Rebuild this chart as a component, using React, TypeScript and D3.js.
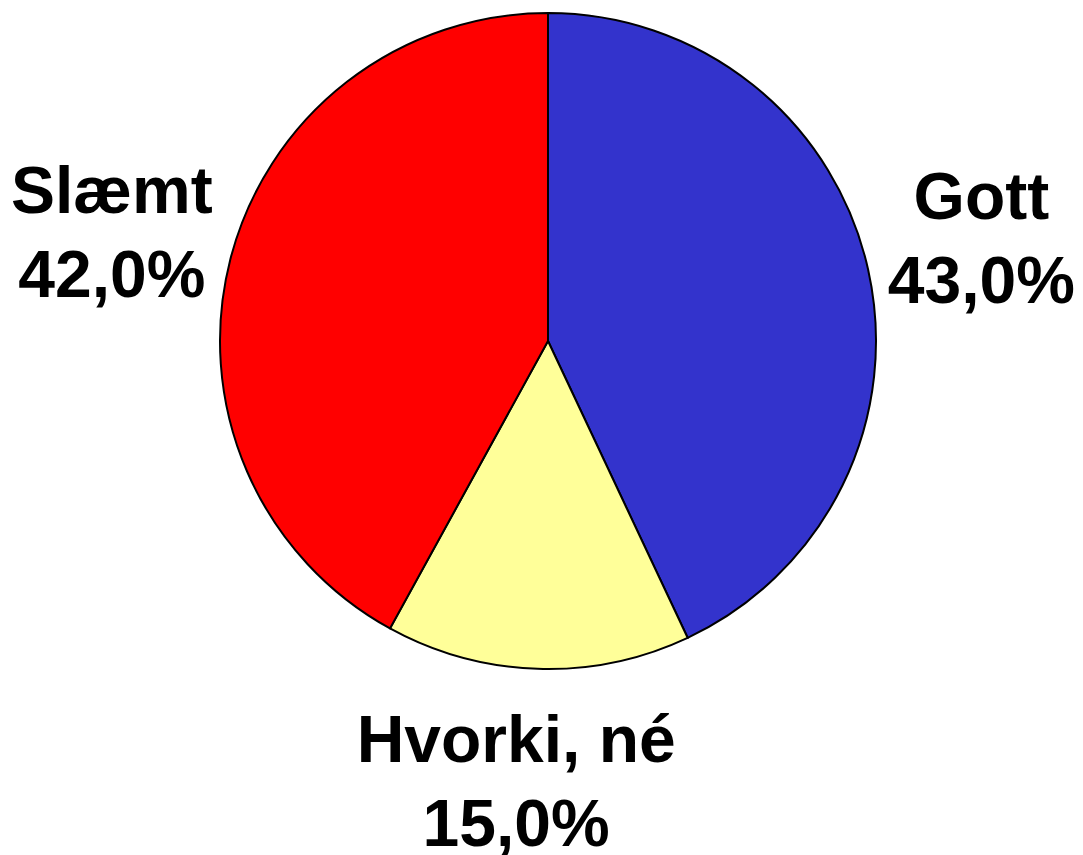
import React from "react";
import * as d3 from "d3";

const categories = ["Gott", "Hvorki, né", "Slæmt"];
const values = [43.0, 15.0, 42.0];
const colors = ["#3333CC", "#FFFF99", "#FF0000"];
// small label nudges [dx, dy] relative to arc centroid
const labelNudge: [number, number][] = [[4, -7], [-18, 0], [-10, 0]];

const W = 1083;
const H = 855;
const cx = 548;
const cy = 341;
const R = 328;
const labelR = 440;
const fontSize = 66;
const lineH = 84;

export default function App() {
  const pie = d3.pie<number>().sort(null).value((d) => d);
  const arcs = pie(values);
  const arcGen = d3.arc<d3.PieArcDatum<number>>().innerRadius(0).outerRadius(R);
  const labelArc = d3.arc<d3.PieArcDatum<number>>().innerRadius(labelR).outerRadius(labelR);
  const fmt = (v: number) => v.toFixed(1).replace(".", ",") + "%";

  return (
    <svg
      width={W}
      height={H}
      style={{ position: "absolute", left: 0, top: 0, background: "#fff" }}
    >
      <g transform={`translate(${cx},${cy})`}>
        {arcs.map((a, i) => (
          <path key={i} d={arcGen(a) || ""} fill={colors[i]} stroke="#000" strokeWidth={2} />
        ))}
        {arcs.map((a, i) => {
          const [cxl, cyl] = labelArc.centroid(a);
          const lx = cxl + labelNudge[i][0];
          const ly = cyl + labelNudge[i][1];
          return (
            <text
              key={"t" + i}
              textAnchor="middle"
              fontFamily="'Liberation Sans', Arial, sans-serif"
              fontWeight="bold"
              fontSize={fontSize}
              fill="#000"
            >
              <tspan x={lx} y={ly - lineH / 2 + 23}>{categories[i]}</tspan>
              <tspan x={lx} y={ly + lineH / 2 + 23}>{fmt(values[i])}</tspan>
            </text>
          );
        })}
      </g>
    </svg>
  );
}
